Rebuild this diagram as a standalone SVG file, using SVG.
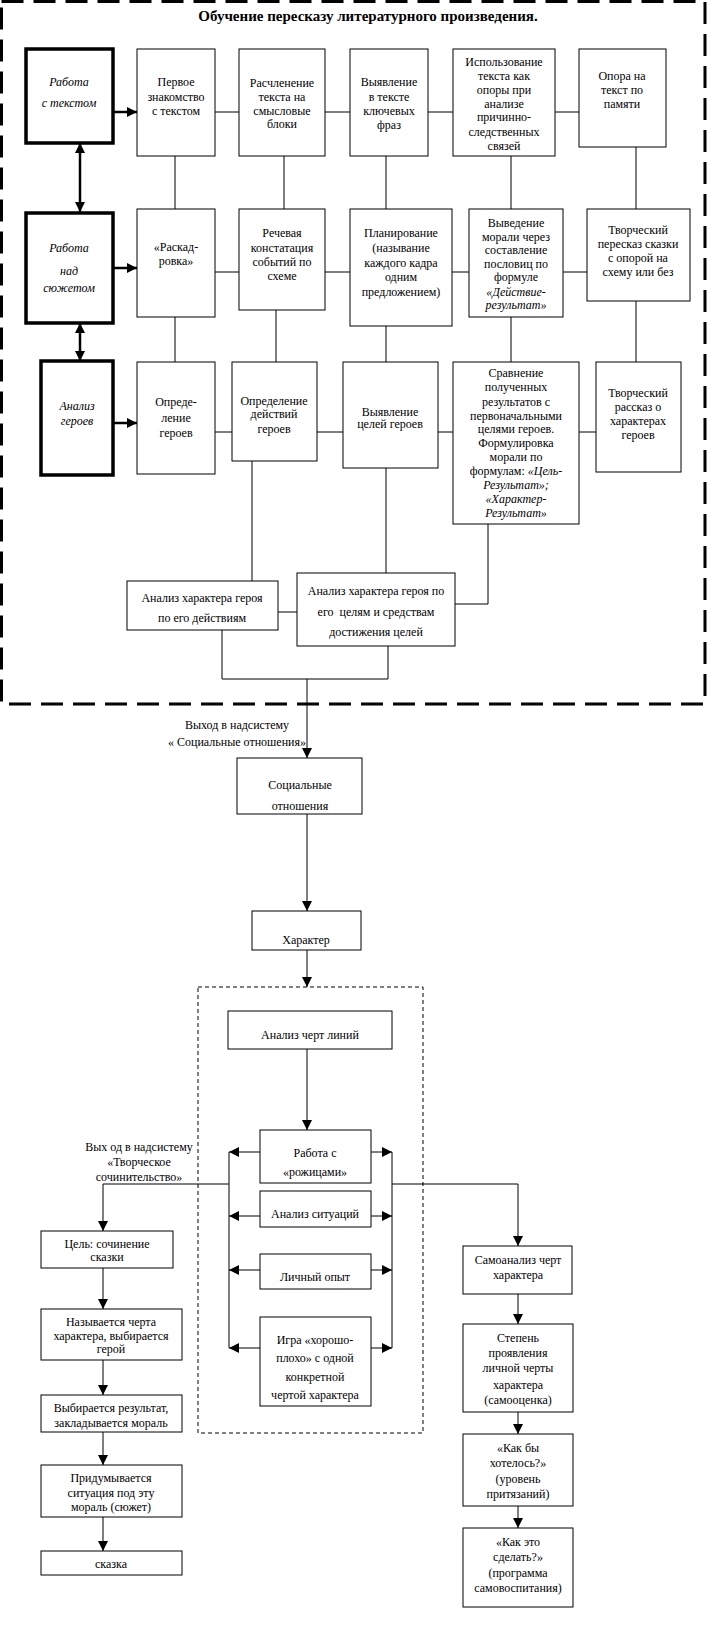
<svg xmlns="http://www.w3.org/2000/svg" width="708" height="1628" viewBox="0 0 708 1628">
<style>
text{font-family:"Liberation Serif","Times New Roman",serif;font-size:12px;text-anchor:middle;fill:#000}
.i{font-style:italic}
.b{fill:#fff;stroke:#000;stroke-width:1}
.k{fill:#fff;stroke:#000;stroke-width:3.5}
.c{fill:none;stroke:#000;stroke-width:1}
.a{fill:none;stroke:#000;stroke-width:1;marker-end:url(#ah)}
.ta{fill:none;stroke:#000;stroke-width:2.5;marker-end:url(#ahb)}
.da{fill:none;stroke:#000;stroke-width:2.5;marker-end:url(#ahb);marker-start:url(#ahbs)}
.title{font-size:15px;font-weight:bold}
</style>
<defs>
<marker id="ah" markerUnits="userSpaceOnUse" markerWidth="10" markerHeight="10" refX="10" refY="5" orient="auto"><path d="M0,0 L10,5 L0,10 z"/></marker>
<marker id="ahb" markerUnits="userSpaceOnUse" markerWidth="10" markerHeight="10" refX="10" refY="5" orient="auto"><path d="M0,0 L10,5 L0,10 z"/></marker>
<marker id="ahbs" markerUnits="userSpaceOnUse" markerWidth="10" markerHeight="10" refX="10" refY="5" orient="auto-start-reverse"><path d="M0,0 L10,5 L0,10 z"/></marker>
</defs>
<rect x="0" y="0" width="708" height="1628" fill="#fff"/>
<g id="frame-outer"><rect x="1.5" y="1.5" width="703.5" height="702.5" fill="none" stroke="#000" stroke-width="3" stroke-dasharray="22 10"/></g>
<g id="frame-inner"><rect x="198" y="987" width="225" height="446" fill="none" stroke="#000" stroke-width="1" stroke-dasharray="4 3"/></g>
<text class="title" x="368" y="21">Обучение пересказу литературного произведения.</text>

<g id="connectors">
<path class="c" d="M215,112H239M325,112H350M428,112H453M555,112H579"/>
<path class="c" d="M175,156V209M284,156V209M386,156V209M511,156V209M636,147V209"/>
<path class="c" d="M215,272H239M325,272H350M452,272H469M563,272H587"/>
<path class="c" d="M175,317V362M276,310V362M386,326V362M511,317V362M636,301V362"/>
<path class="c" d="M215,432H232M317,432H343M438,432H453M579,432H596"/>
<path class="c" d="M252,461V581M386,468V573M488,524V604H455M278,612H297"/>
<path class="c" d="M222,630V679H388V646"/>
<path class="a" d="M307,679V758"/>
<path class="ta" d="M113,112H137"/>
<path class="ta" d="M113,268H137"/>
<path class="ta" d="M113,423H137"/>
<path class="da" d="M80,143V212"/>
<path class="da" d="M80,323V361"/>
<path class="a" d="M307,814V911"/>
<path class="a" d="M307,950V987"/>
<path class="a" d="M307,1049V1130"/>
<path class="c" d="M229,1152V1348M392,1152V1348"/>
<path class="a" d="M260,1152H229"/>
<path class="a" d="M260,1216H229"/>
<path class="a" d="M260,1270H229"/>
<path class="a" d="M260,1348H229"/>
<path class="a" d="M371,1152H392"/>
<path class="a" d="M371,1216H392"/>
<path class="a" d="M371,1270H392"/>
<path class="a" d="M371,1348H392"/>
<path class="a" d="M229,1184H103V1231"/>
<path class="a" d="M392,1184H518V1246"/>
<path class="a" d="M103,1268V1309"/>
<path class="a" d="M103,1360V1395"/>
<path class="a" d="M103,1432V1465"/>
<path class="a" d="M103,1517V1551"/>
<path class="a" d="M518,1294V1324"/>
<path class="a" d="M518,1412V1434"/>
<path class="a" d="M518,1506V1528"/>
</g>

<g id="n-work-text"><rect class="k" x="26" y="49" width="87" height="94"/>
<text class="i" x="69" y="86">Работа</text><text class="i" x="69" y="107">с текстом</text></g>
<g id="n-work-plot"><rect class="k" x="26" y="213" width="87" height="110"/>
<text class="i" x="69" y="252">Работа</text><text class="i" x="69" y="275">над</text><text class="i" x="69" y="292">сюжетом</text></g>
<g id="n-heroes"><rect class="k" x="41" y="361" width="72" height="114"/>
<text class="i" x="77" y="410">Анализ</text><text class="i" x="77" y="425">героев</text></g>

<g id="n-b1"><rect class="b" x="137" y="49" width="78" height="107"/>
<text x="176" y="86">Первое</text><text x="176" y="101">знакомство</text><text x="176" y="115">с текстом</text></g>
<g id="n-b2"><rect class="b" x="239" y="49" width="86" height="107"/>
<text x="282" y="87">Расчленение</text><text x="282" y="101">текста на</text><text x="282" y="115">смысловые</text><text x="282" y="128">блоки</text></g>
<g id="n-b3"><rect class="b" x="350" y="49" width="78" height="107"/>
<text x="389" y="86">Выявление</text><text x="389" y="101">в тексте</text><text x="389" y="115">ключевых</text><text x="389" y="129">фраз</text></g>
<g id="n-b4"><rect class="b" x="453" y="49" width="102" height="107"/>
<text x="504" y="66">Использование</text><text x="504" y="80">текста как</text><text x="504" y="94">опоры при</text><text x="504" y="108">анализе</text><text x="504" y="121">причинно-</text><text x="504" y="136">следственных</text><text x="504" y="150">связей</text></g>
<g id="n-b5"><rect class="b" x="579" y="49" width="87" height="98"/>
<text x="622" y="80">Опора на</text><text x="622" y="94">текст по</text><text x="622" y="108">памяти</text></g>

<g id="n-c1"><rect class="b" x="137" y="209" width="78" height="108"/>
<text x="176" y="251">«Раскад-</text><text x="176" y="265">ровка»</text></g>
<g id="n-c2"><rect class="b" x="239" y="209" width="86" height="101"/>
<text x="282" y="237">Речевая</text><text x="282" y="252">констатация</text><text x="282" y="266">событий по</text><text x="282" y="280">схеме</text></g>
<g id="n-c3"><rect class="b" x="350" y="209" width="102" height="117"/>
<text x="401" y="237">Планирование</text><text x="401" y="252">(называние</text><text x="401" y="267">каждого кадра</text><text x="401" y="281">одним</text><text x="401" y="296">предложением)</text></g>
<g id="n-c4"><rect class="b" x="469" y="209" width="94" height="108"/>
<text x="516" y="227">Выведение</text><text x="516" y="241">морали через</text><text x="516" y="254">составление</text><text x="516" y="268">пословиц по</text><text x="516" y="281">формуле</text><text class="i" x="516" y="296">«Действие-</text><text class="i" x="516" y="309">результат»</text></g>
<g id="n-c5"><rect class="b" x="587" y="209" width="103" height="92"/>
<text x="638" y="234">Творческий</text><text x="638" y="248">пересказ сказки</text><text x="638" y="262">с опорой на</text><text x="638" y="276">схему или без</text></g>

<g id="n-d1"><rect class="b" x="137" y="362" width="78" height="112"/>
<text x="176" y="406">Опреде-</text><text x="176" y="422">ление</text><text x="176" y="437">героев</text></g>
<g id="n-d2"><rect class="b" x="232" y="362" width="85" height="99"/>
<text x="274" y="405">Определение</text><text x="274" y="418">действий</text><text x="274" y="433">героев</text></g>
<g id="n-d3"><rect class="b" x="343" y="362" width="95" height="106"/>
<text x="390" y="416">Выявление</text><text x="390" y="428">целей героев</text></g>
<g id="n-d4"><rect class="b" x="453" y="362" width="126" height="162"/>
<text x="516" y="377">Сравнение</text><text x="516" y="391">полученных</text><text x="516" y="406">результатов с</text><text x="516" y="420">первоначальными</text><text x="516" y="433">целями героев.</text><text x="516" y="447">Формулировка</text><text x="516" y="461">морали по</text><text x="516" y="475">формулам: <tspan class="i">«Цель-</tspan></text><text class="i" x="516" y="489">Результат»;</text><text class="i" x="516" y="503">«Характер-</text><text class="i" x="516" y="517">Результат»</text></g>
<g id="n-d5"><rect class="b" x="596" y="362" width="85" height="110"/>
<text x="638" y="397">Творческий</text><text x="638" y="411">рассказ о</text><text x="638" y="425">характерах</text><text x="638" y="439">героев</text></g>

<g id="n-e1"><rect class="b" x="127" y="581" width="151" height="49"/>
<text x="202" y="602">Анализ характера героя</text><text x="202" y="622">по его действиям</text></g>
<g id="n-e2"><rect class="b" x="297" y="573" width="158" height="73"/>
<text x="376" y="595">Анализ характера героя по</text><text x="376" y="616" xml:space="preserve">его  целям и средствам</text><text x="376" y="636">достижения целей</text></g>

<g id="l-exit1"><text x="237" y="729">Выход в надсистему</text><text x="237" y="746">« Социальные отношения»</text></g>
<g id="n-social"><rect class="b" x="237" y="758" width="125" height="56"/>
<text x="300" y="789">Социальные</text><text x="300" y="810">отношения</text></g>
<g id="n-character"><rect class="b" x="252" y="911" width="109" height="39"/>
<text x="306" y="944">Характер</text></g>
<g id="n-lines"><rect class="b" x="228" y="1011" width="164" height="38"/>
<text x="310" y="1039">Анализ черт линий</text></g>
<g id="n-faces"><rect class="b" x="260" y="1130" width="111" height="53"/>
<text x="315" y="1157">Работа с</text><text x="315" y="1176">«рожицами»</text></g>
<g id="n-situations"><rect class="b" x="260" y="1191" width="111" height="36"/>
<text x="315" y="1218">Анализ ситуаций</text></g>
<g id="n-experience"><rect class="b" x="260" y="1254" width="111" height="35"/>
<text x="315" y="1281">Личный опыт</text></g>
<g id="n-game"><rect class="b" x="260" y="1317" width="111" height="89"/>
<text x="315" y="1344">Игра «хорошо-</text><text x="315" y="1362">плохо» с одной</text><text x="315" y="1381">конкретной</text><text x="315" y="1399">чертой характера</text></g>

<g id="l-exit2"><text x="139" y="1151">Вых од в надсистему</text><text x="139" y="1166">«Творческое</text><text x="139" y="1181">сочинительство»</text></g>

<g id="n-goal"><rect class="b" x="41" y="1231" width="132" height="37"/>
<text x="107" y="1248">Цель: сочинение</text><text x="107" y="1261">сказки</text></g>
<g id="n-trait"><rect class="b" x="41" y="1309" width="141" height="51"/>
<text x="111" y="1326">Называется черта</text><text x="111" y="1340">характера, выбирается</text><text x="111" y="1353">герой</text></g>
<g id="n-result"><rect class="b" x="41" y="1395" width="141" height="37"/>
<text x="111" y="1412">Выбирается результат,</text><text x="111" y="1427">закладывается мораль</text></g>
<g id="n-situation"><rect class="b" x="41" y="1465" width="141" height="52"/>
<text x="111" y="1482">Придумывается</text><text x="111" y="1497">ситуация под эту</text><text x="111" y="1511">мораль (сюжет)</text></g>
<g id="n-tale"><rect class="b" x="41" y="1551" width="141" height="24"/>
<text x="111" y="1568">сказка</text></g>

<g id="n-selfanalysis"><rect class="b" x="463" y="1246" width="109" height="48"/>
<text x="518" y="1264">Самоанализ черт</text><text x="518" y="1279">характера</text></g>
<g id="n-degree"><rect class="b" x="463" y="1324" width="110" height="88"/>
<text x="518" y="1342">Степень</text><text x="518" y="1357">проявления</text><text x="518" y="1372">личной черты</text><text x="518" y="1389">характера</text><text x="518" y="1404">(самооценка)</text></g>
<g id="n-wish"><rect class="b" x="463" y="1434" width="110" height="72"/>
<text x="518" y="1452">«Как бы</text><text x="518" y="1467">хотелось?»</text><text x="518" y="1483">(уровень</text><text x="518" y="1498">притязаний)</text></g>
<g id="n-how"><rect class="b" x="463" y="1528" width="110" height="79"/>
<text x="518" y="1546">«Как это</text><text x="518" y="1561">сделать?»</text><text x="518" y="1577">(программа</text><text x="518" y="1592">самовоспитания)</text></g>
</svg>
